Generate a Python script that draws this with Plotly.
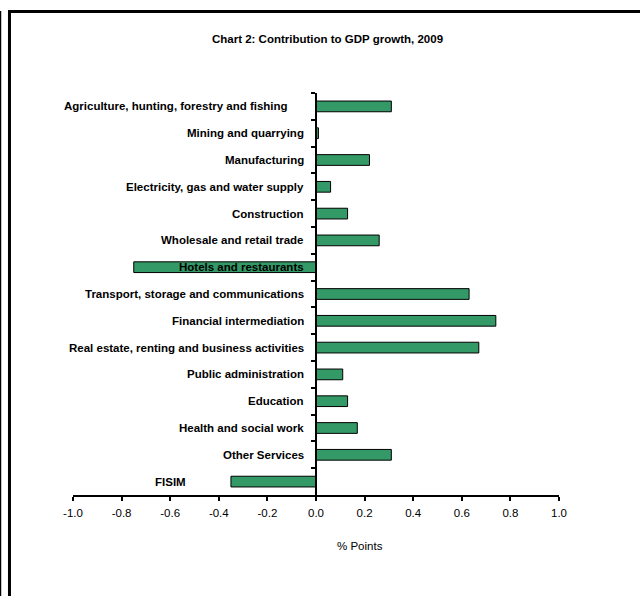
import plotly.graph_objects as go

# Contribution to GDP growth by industry, 2009 (percentage points)
industries = [
    "Agriculture, hunting, forestry and fishing",
    "Mining and quarrying",
    "Manufacturing",
    "Electricity, gas and water supply",
    "Construction",
    "Wholesale and retail trade",
    "Hotels and restaurants",
    "Transport, storage and communications",
    "Financial intermediation",
    "Real estate, renting and business activities",
    "Public administration",
    "Education",
    "Health and social work",
    "Other Services",
    "FISIM",
]
contribution = [0.31, 0.01, 0.22, 0.06, 0.13, 0.26, -0.75, 0.63, 0.74, 0.67,
                0.11, 0.13, 0.17, 0.31, -0.35]

x_ticks = [-1.0, -0.8, -0.6, -0.4, -0.2, 0.0, 0.2, 0.4, 0.6, 0.8, 1.0]
x_tick_labels = ["-1.0", "-0.8", "-0.6", "-0.4", "-0.2", "0.0",
                 "0.2", "0.4", "0.6", "0.8", "1.0"]

FONT = "Liberation Sans, Arial, sans-serif"
BAR_GREEN = "#339966"

# Category labels sit left of the zero line; two of them are pushed further left.
label_shift = {
    "Agriculture, hunting, forestry and fishing": -26,
    "FISIM": -128,
}

fig = go.Figure(
    go.Bar(
        x=contribution,
        y=industries,
        orientation="h",
        marker=dict(color=BAR_GREEN, line=dict(color="black", width=1)),
        hoverinfo="x+y",
    )
)

annotations = []
for name in industries:
    annotations.append(dict(
        x=0, y=name, xref="x", yref="y",
        text=name, showarrow=False,
        xanchor="right", yanchor="middle",
        xshift=label_shift.get(name, -10),
        font=dict(family=FONT, size=11.5, color="black", weight="bold"),
    ))

annotations.append(dict(
    x=0.5905, y=-0.127, xref="paper", yref="paper",
    text="% Points", showarrow=False,
    xanchor="center", yanchor="middle",
    font=dict(family=FONT, size=11.5, color="black"),
))

fig.update_layout(
    width=640, height=596,
    margin=dict(l=73, r=81, t=93, b=101),
    paper_bgcolor="white",
    plot_bgcolor="white",
    showlegend=False,
    bargap=0.6,
    title=dict(
        text="Chart 2: Contribution to GDP growth, 2009",
        xref="container", yref="container",
        x=327.5 / 640, y=1 - 39 / 596,
        xanchor="center", yanchor="middle",
        font=dict(family=FONT, size=11.5, color="black", weight="bold"),
    ),
    xaxis=dict(
        range=[-1, 1],
        tickvals=x_ticks,
        ticktext=x_tick_labels,
        ticks="outside", ticklen=4, tickwidth=2, tickcolor="black",
        showline=True, linecolor="black", linewidth=2,
        showgrid=False, zeroline=False,
        tickfont=dict(family=FONT, size=11.5, color="black"),
        ticklabelstandoff=2,
        fixedrange=True,
    ),
    yaxis=dict(
        type="category",
        categoryorder="array",
        categoryarray=industries,
        autorange="reversed",
        anchor="free", position=0.5,
        showline=True, linecolor="black", linewidth=2,
        ticks="outside", tickson="boundaries", ticklen=4, tickwidth=2,
        tickcolor="black",
        showticklabels=False,
        showgrid=False, zeroline=False,
        fixedrange=True,
    ),
    annotations=annotations,
    shapes=[
        # outer chart frame (thick) running off the right and bottom edges
        dict(type="rect", xref="paper", yref="paper",
             x0=-0.1307, x1=1.21, y0=-0.32, y1=1.2027,
             line=dict(color="black", width=3), layer="above"),
        # thin rule at the far left
        dict(type="line", xref="paper", yref="paper",
             x0=-0.1492, x1=-0.1492, y0=-0.32, y1=1.204,
             line=dict(color="black", width=1.5), layer="above"),
    ],
)

fig.write_html("out.html")
